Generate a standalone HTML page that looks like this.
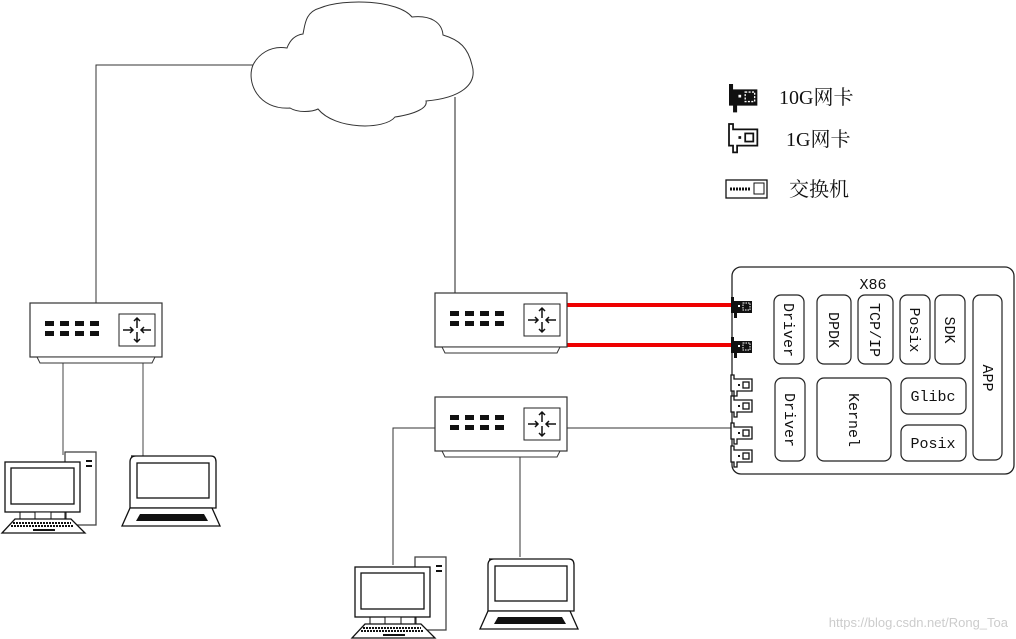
<!DOCTYPE html>
<html><head><meta charset="utf-8"><style>
html,body{margin:0;padding:0;background:#fff;}
svg{display:block;}
.m{font-family:"Liberation Mono","Noto Sans CJK SC",monospace;font-size:15px;fill:#111;}
.c{font-family:"Liberation Serif","Noto Serif CJK SC",serif;font-size:20px;fill:#111;}
</style></head><body>
<svg width="1016" height="639" viewBox="0 0 1016 639" xmlns="http://www.w3.org/2000/svg">
<defs>
<g id="sw">
<rect x="0" y="0" width="132" height="54" fill="#fff" stroke="#333" stroke-width="1.2"/>
<path d="M7,54 L125,54 L122,60 L10,60 Z" fill="#fff" stroke="#333"/>
<g fill="#111">
<rect x="15" y="18" width="9" height="5"/><rect x="30" y="18" width="9" height="5"/><rect x="45" y="18" width="9" height="5"/><rect x="60" y="18" width="9" height="5"/>
<rect x="15" y="28" width="9" height="5"/><rect x="30" y="28" width="9" height="5"/><rect x="45" y="28" width="9" height="5"/><rect x="60" y="28" width="9" height="5"/>
</g>
<rect x="89" y="11" width="36" height="32" fill="#fff" stroke="#222"/>
<g stroke="#111" stroke-width="1.5" fill="none">
<path d="M107,15 v10 M104,18 l3,-3 l3,3"/><path d="M107,39 v-10 M104,36 l3,3 l3,-3"/>
<path d="M93,27 h10 M100,24 l3,3 l-3,3"/><path d="M121,27 h-10 M114,24 l-3,3 l3,3"/>
</g>
</g>
<g id="nic10">
<path d="M0,0 h3 v4 h18 v12 h-15 v5 h-3 v-5 h-3 z" fill="#111"/>
<rect x="12" y="6" width="7" height="7" fill="none" stroke="#fff" stroke-dasharray="1.5 1"/>
<rect x="7" y="8" width="2" height="2" fill="#fff"/>
</g>
<g id="nic1">
<path d="M0,0 h3 v4 h18 v12 h-15 v5 h-3 v-5 h-3 z" fill="#fff" stroke="#111" stroke-width="1.3"/>
<rect x="12" y="7" width="6" height="6" fill="none" stroke="#111" stroke-width="1.3"/>
<rect x="7" y="9" width="2" height="2" fill="#111"/>
</g>
<g id="pc">
<rect x="60" y="0" width="31" height="73" fill="#fff" stroke="#444" stroke-width="1.3"/>
<rect x="81" y="8" width="6" height="2" fill="#111"/><rect x="81" y="13" width="6" height="2" fill="#111"/>
<rect x="0" y="10" width="75" height="50" fill="#fff" stroke="#111" stroke-width="1.3"/>
<rect x="6" y="16" width="63" height="36" fill="#fff" stroke="#111" stroke-width="1.3"/>
<rect x="30" y="60" width="16" height="7" fill="#fff" stroke="#111"/>
<rect x="15" y="60" width="46" height="7" fill="none" stroke="#111"/>
<path d="M10,67 L66,67 L80,81 L-3,81 Z" fill="#fff" stroke="#111" stroke-width="1.3"/>
<path d="M8,71 h58 M6,74 h62" stroke="#111" stroke-width="2" stroke-dasharray="2 1"/>
<rect x="28" y="77" width="22" height="2" fill="#111"/>
</g>
<g id="lap">
<path d="M5,0 h80 q5,0 5,6 v46 h-86 v-46 q0,-6 6,-6 z" fill="#fff" stroke="#111" stroke-width="1.3"/>
<rect x="11" y="7" width="72" height="35" fill="#fff" stroke="#111" stroke-width="1.3"/>
<path d="M4,52 L86,52 L94,70 L-4,70 Z" fill="#fff" stroke="#111" stroke-width="1.3"/>
<path d="M14,58 L78,58 L82,65 L10,65 Z" fill="#111"/>
</g>
</defs>

<!-- cloud & lines -->
<path d="M96,303 V65 H253" fill="none" stroke="#333"/>
<path d="M455,97 V293" fill="none" stroke="#555" stroke-width="1.3"/>
<path d="M253,65 C246,82 258,110 290,108 C298,113 312,112 318,109 C335,130 385,130 395,117 C415,114 428,108 426,101 C460,98 478,85 472,65 C468,48 460,40 443,35 C442,22 430,15 412,17 C398,0 345,-2 320,8 C305,12 305,25 303,34 C295,35 290,40 287,48 C270,45 258,55 253,65 Z" fill="#fff" stroke="#333"/>

<!-- connections -->
<path d="M63,363 V455 M143,363 V457" stroke="#444" fill="none"/>
<path d="M435,428 H393 V565 M520,457 V557 M567,428 H733" stroke="#333" fill="none"/>
<path d="M567,305 H733 M567,345 H733" stroke="#e00" stroke-width="4"/>

<use href="#sw" x="30" y="303"/>
<use href="#sw" x="435" y="293"/>
<use href="#sw" x="435" y="397"/>

<use href="#pc" x="5" y="452"/>
<use href="#lap" x="126" y="456"/>
<use href="#pc" x="355" y="557"/>
<use href="#lap" x="484" y="559"/>

<!-- legend -->
<g transform="translate(729,84) scale(1.35)"><use href="#nic10"/></g>
<text class="c" x="779" y="104">10G网卡</text>
<g transform="translate(729,124) scale(1.35)"><use href="#nic1"/></g>
<text class="c" x="786" y="146">1G网卡</text>
<rect x="726" y="180" width="41" height="18" fill="#fff" stroke="#111" stroke-width="1.3"/>
<path d="M730,189 h20" stroke="#111" stroke-width="3" stroke-dasharray="2 1"/>
<rect x="754" y="183" width="10" height="11" fill="none" stroke="#111"/>
<text class="c" x="789" y="196">交换机</text>

<!-- X86 -->
<rect x="732" y="267" width="282" height="207" rx="9" fill="#fff" stroke="#222" stroke-width="1.3"/>
<text class="m" x="873" y="289" text-anchor="middle">X86</text>
<g fill="#fff" stroke="#222" stroke-width="1.2">
<rect x="774" y="295" width="30" height="69" rx="7"/>
<rect x="817" y="295" width="34" height="69" rx="7"/>
<rect x="858" y="295" width="35" height="69" rx="7"/>
<rect x="900" y="295" width="30" height="69" rx="7"/>
<rect x="935" y="295" width="30" height="69" rx="7"/>
<rect x="973" y="295" width="29" height="165" rx="7"/>
<rect x="775" y="378" width="30" height="83" rx="7"/>
<rect x="817" y="378" width="74" height="83" rx="7"/>
<rect x="901" y="378" width="65" height="36" rx="7"/>
<rect x="901" y="425" width="65" height="36" rx="7"/>
</g>
<g class="m">
<text transform="translate(784,330) rotate(90)" text-anchor="middle">Driver</text>
<text transform="translate(829,330) rotate(90)" text-anchor="middle">DPDK</text>
<text transform="translate(870,330) rotate(90)" text-anchor="middle">TCP/IP</text>
<text transform="translate(910,330) rotate(90)" text-anchor="middle">Posix</text>
<text transform="translate(945,330) rotate(90)" text-anchor="middle">SDK</text>
<text transform="translate(983,378) rotate(90)" text-anchor="middle">APP</text>
<text transform="translate(785,420) rotate(90)" text-anchor="middle">Driver</text>
<text transform="translate(849,420) rotate(90)" text-anchor="middle">Kernel</text>
<text x="933" y="401" text-anchor="middle">Glibc</text>
<text x="933" y="448" text-anchor="middle">Posix</text>
</g>
<use href="#nic10" x="731" y="297"/>
<use href="#nic10" x="731" y="337"/>
<use href="#nic1" x="731" y="375"/>
<use href="#nic1" x="731" y="396"/>
<use href="#nic1" x="731" y="423"/>
<use href="#nic1" x="731" y="446"/>

<text x="1008" y="627" text-anchor="end" font-family="Liberation Sans, sans-serif" font-size="13" fill="#ccc">https://blog.csdn.net/Rong_Toa</text>
</svg>
</body></html>
